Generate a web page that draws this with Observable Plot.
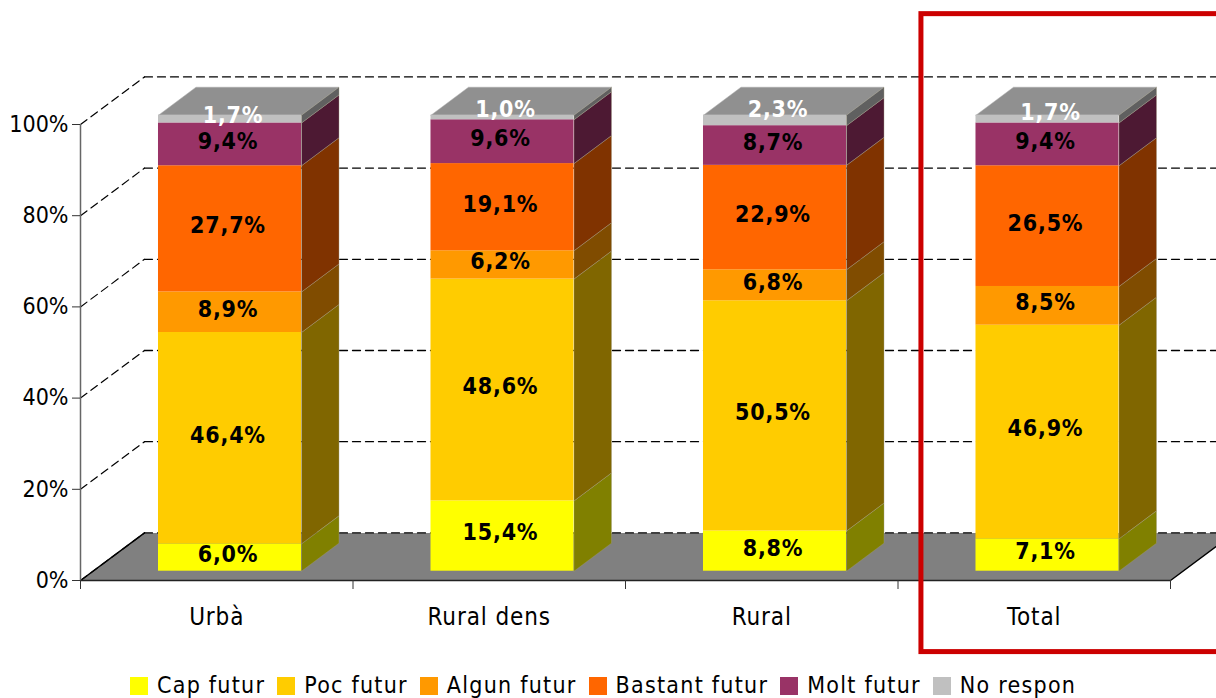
<!DOCTYPE html>
<html><head><meta charset="utf-8">
<script src="https://cdn.jsdelivr.net/npm/d3@7"></script>
<script src="https://cdn.jsdelivr.net/npm/@observablehq/plot@0.6"></script>
<style>
html,body{margin:0;padding:0;background:#fff;overflow:hidden;width:1216px;height:698px}
#chart svg{overflow:visible;display:block;max-width:none}
#legend{display:flex;position:absolute;left:130px;top:672px;font:23px "DejaVu Sans Condensed","DejaVu Sans",sans-serif;font-stretch:condensed;letter-spacing:1.25px;color:#000;line-height:26px}
#legend .i{display:flex;align-items:center;margin-right:12px}
#legend .s{width:18px;height:18px;margin-right:9px;margin-top:1px}
</style></head><body>
<div id="chart"></div><div id="legend"></div>
<script>
const categories = ["Urbà", "Rural dens", "Rural", "Total"];
const series = ["Cap futur", "Poc futur", "Algun futur", "Bastant futur", "Molt futur", "No respon"];
const frontColors = ["#FFFF00", "#FFCC00", "#FF9900", "#FF6600", "#993366", "#C0C0C0"];
const sideColors = ["#808000", "#806600", "#804C00", "#803300", "#4D1933", "#606060"];
const capFutur = [6.0, 15.4, 8.8, 7.1];
const pocFutur = [46.4, 48.6, 50.5, 46.9];
const algunFutur = [8.9, 6.2, 6.8, 8.5];
const bastantFutur = [27.7, 19.1, 22.9, 26.5];
const moltFutur = [9.4, 9.6, 8.7, 9.4];
const noRespon = [1.7, 1.0, 2.3, 1.7];
const yTicks = [0, 20, 40, 60, 80, 100];

const seriesValues = [capFutur, pocFutur, algunFutur, bastantFutur, moltFutur, noRespon];
// projection of the 3D box, in data units
const wallDX = 64 / 272.5, wallDY = 47.6 / 4.56;
const barLeft = 0.2862, barWidth = 143 / 272.5;
const barDX = 37.5 / 272.5, barDY = 28 / 4.56, barLift = 9.3 / 4.56;
const xMax = categories.length;
// vertical nudge of the top (white) labels, in data units
const whiteNudge = [-1 / 4.56, 4 / 4.56, 7 / 4.56, 2 / 4.56];

const rows = [], sides = [], tops = [];
categories.forEach((c, i) => {
  const total = d3.sum(seriesValues, s => s[i]);
  let cum = 0;
  const x1 = i + barLeft, x2 = x1 + barWidth;
  seriesValues.forEach((s, k) => {
    const y1 = cum / total * 100 + barLift;
    cum += s[i];
    const y2 = cum / total * 100 + barLift;
    const nudge = k === seriesValues.length - 1 ? whiteNudge[i] : 0;
    rows.push({c, i, k, value: s[i], x1, x2, y1, y2, xm: (x1 + x2) / 2, ym: (y1 + y2) / 2 + nudge, fill: frontColors[k]});
    const id = `${i}-${k}`;
    [[x2, y1], [x2 + barDX, y1 + barDY], [x2 + barDX, y2 + barDY], [x2, y2], [x2, y1]]
      .forEach(([x, y]) => sides.push({id, x, y, fill: sideColors[k]}));
    if (k === seriesValues.length - 1) {
      [[x1, y2], [x1 + barDX, y2 + barDY], [x2 + barDX, y2 + barDY], [x2, y2], [x1, y2]]
        .forEach(([x, y]) => tops.push({id: "t" + i, x, y}));
    }
  });
});
const floor = [[0, 0], [wallDX, wallDY], [xMax + wallDX, wallDY], [xMax, 0], [0, 0]].map(([x, y]) => ({x, y}));
const wallSide = yTicks.flatMap(t => [{t, x: 0, y: t}, {t, x: wallDX, y: t + wallDY}]);
const wallBack = yTicks.flatMap(t => [{t, x: wallDX, y: t + wallDY}, {t, x: xMax + wallDX, y: t + wallDY}]);

const fmt = v => v.toFixed(1).replace(".", ",") + "%";
const font = '"DejaVu Sans Condensed","DejaVu Sans",sans-serif';
const dark = rows.filter(d => d.k < 5), light = rows.filter(d => d.k === 5);

const plot = Plot.plot({
  width: 1216, height: 660,
  marginLeft: 80, marginRight: 46, marginTop: 124, marginBottom: 80,
  style: {fontFamily: font, fontStretch: "condensed", background: "#fff", overflow: "visible"},
  x: {domain: [0, xMax], axis: null},
  y: {domain: [0, 100], axis: null},
  marks: [
    Plot.line(floor, {x: "x", y: "y", fill: "#808080", stroke: "none"}),
    Plot.line(wallBack, {x: "x", y: "y", z: "t", stroke: "#000", strokeWidth: 1.3, strokeDasharray: "8,5"}),
    Plot.line(wallSide, {x: "x", y: "y", z: "t", stroke: "#000", strokeWidth: 1.2, strokeDasharray: "8,5"}),
    Plot.line([{x: 0, y: 0}, {x: wallDX, y: wallDY}], {x: "x", y: "y", stroke: "#000"}),
    Plot.line([{x: xMax, y: 0}, {x: xMax + wallDX, y: wallDY}], {x: "x", y: "y", stroke: "#000"}),
    Plot.ruleY([0], {x1: 0, x2: xMax, stroke: "#222", strokeWidth: 1.5}),
    Plot.ruleX([0], {y1: 0, y2: 100, stroke: "#666", strokeWidth: 1.5}),
    Plot.axisY({ticks: yTicks, tickFormat: d => d + "%", tickSize: 8, tickPadding: 4, fontSize: 23, anchor: "left", label: null, stroke: "#333", color: "#000"}),
    Plot.axisX({ticks: d3.range(xMax + 1), tickFormat: () => "", tickSize: 9, anchor: "bottom", label: null, stroke: "#333"}),
    Plot.axisX({ticks: categories.map((c, i) => i + 0.5), tickFormat: d => categories[Math.floor(d)], tickSize: 0, tickPadding: 27, fontSize: 24, anchor: "bottom", label: null, color: "#000"}),
    Plot.line(tops, {x: "x", y: "y", z: "id", fill: "#909090", stroke: "#aaa", strokeWidth: 0.5}),
    Plot.line(sides, {x: "x", y: "y", z: "id", fill: "fill", stroke: "#a09a80", strokeWidth: 0.4}),
    Plot.rect(rows, {x1: "x1", x2: "x2", y1: "y1", y2: "y2", fill: "fill"}),
    Plot.text(dark, {x: "xm", y: "ym", text: d => fmt(d.value), dx: -2, dy: -3, fontSize: 23, fontWeight: "bold", fill: "#000"}),
    Plot.text(light, {x: "xm", y: "ym", text: d => fmt(d.value), dx: 3, dy: -4, fontSize: 23, fontWeight: "bold", fill: "#fff"}),
    Plot.rect([{}], {x1: 3.086, x2: 4.25, y1: -15.7, y2: 124.2, fill: "none", stroke: "#CC0000", strokeWidth: 5})
  ]
});
plot.querySelectorAll('[aria-label="text"] text').forEach(t => t.style.letterSpacing = "0.8px");
plot.querySelectorAll('[aria-label="x-axis tick label"] text').forEach(t => t.style.letterSpacing = "0.9px");
document.getElementById("chart").append(plot);
const lg = d3.select("#legend").selectAll("div").data(series).join("div").attr("class", "i");
lg.append("div").attr("class", "s").style("background", (d, i) => frontColors[i]);
lg.append("span").text(d => d);
</script></body></html>
